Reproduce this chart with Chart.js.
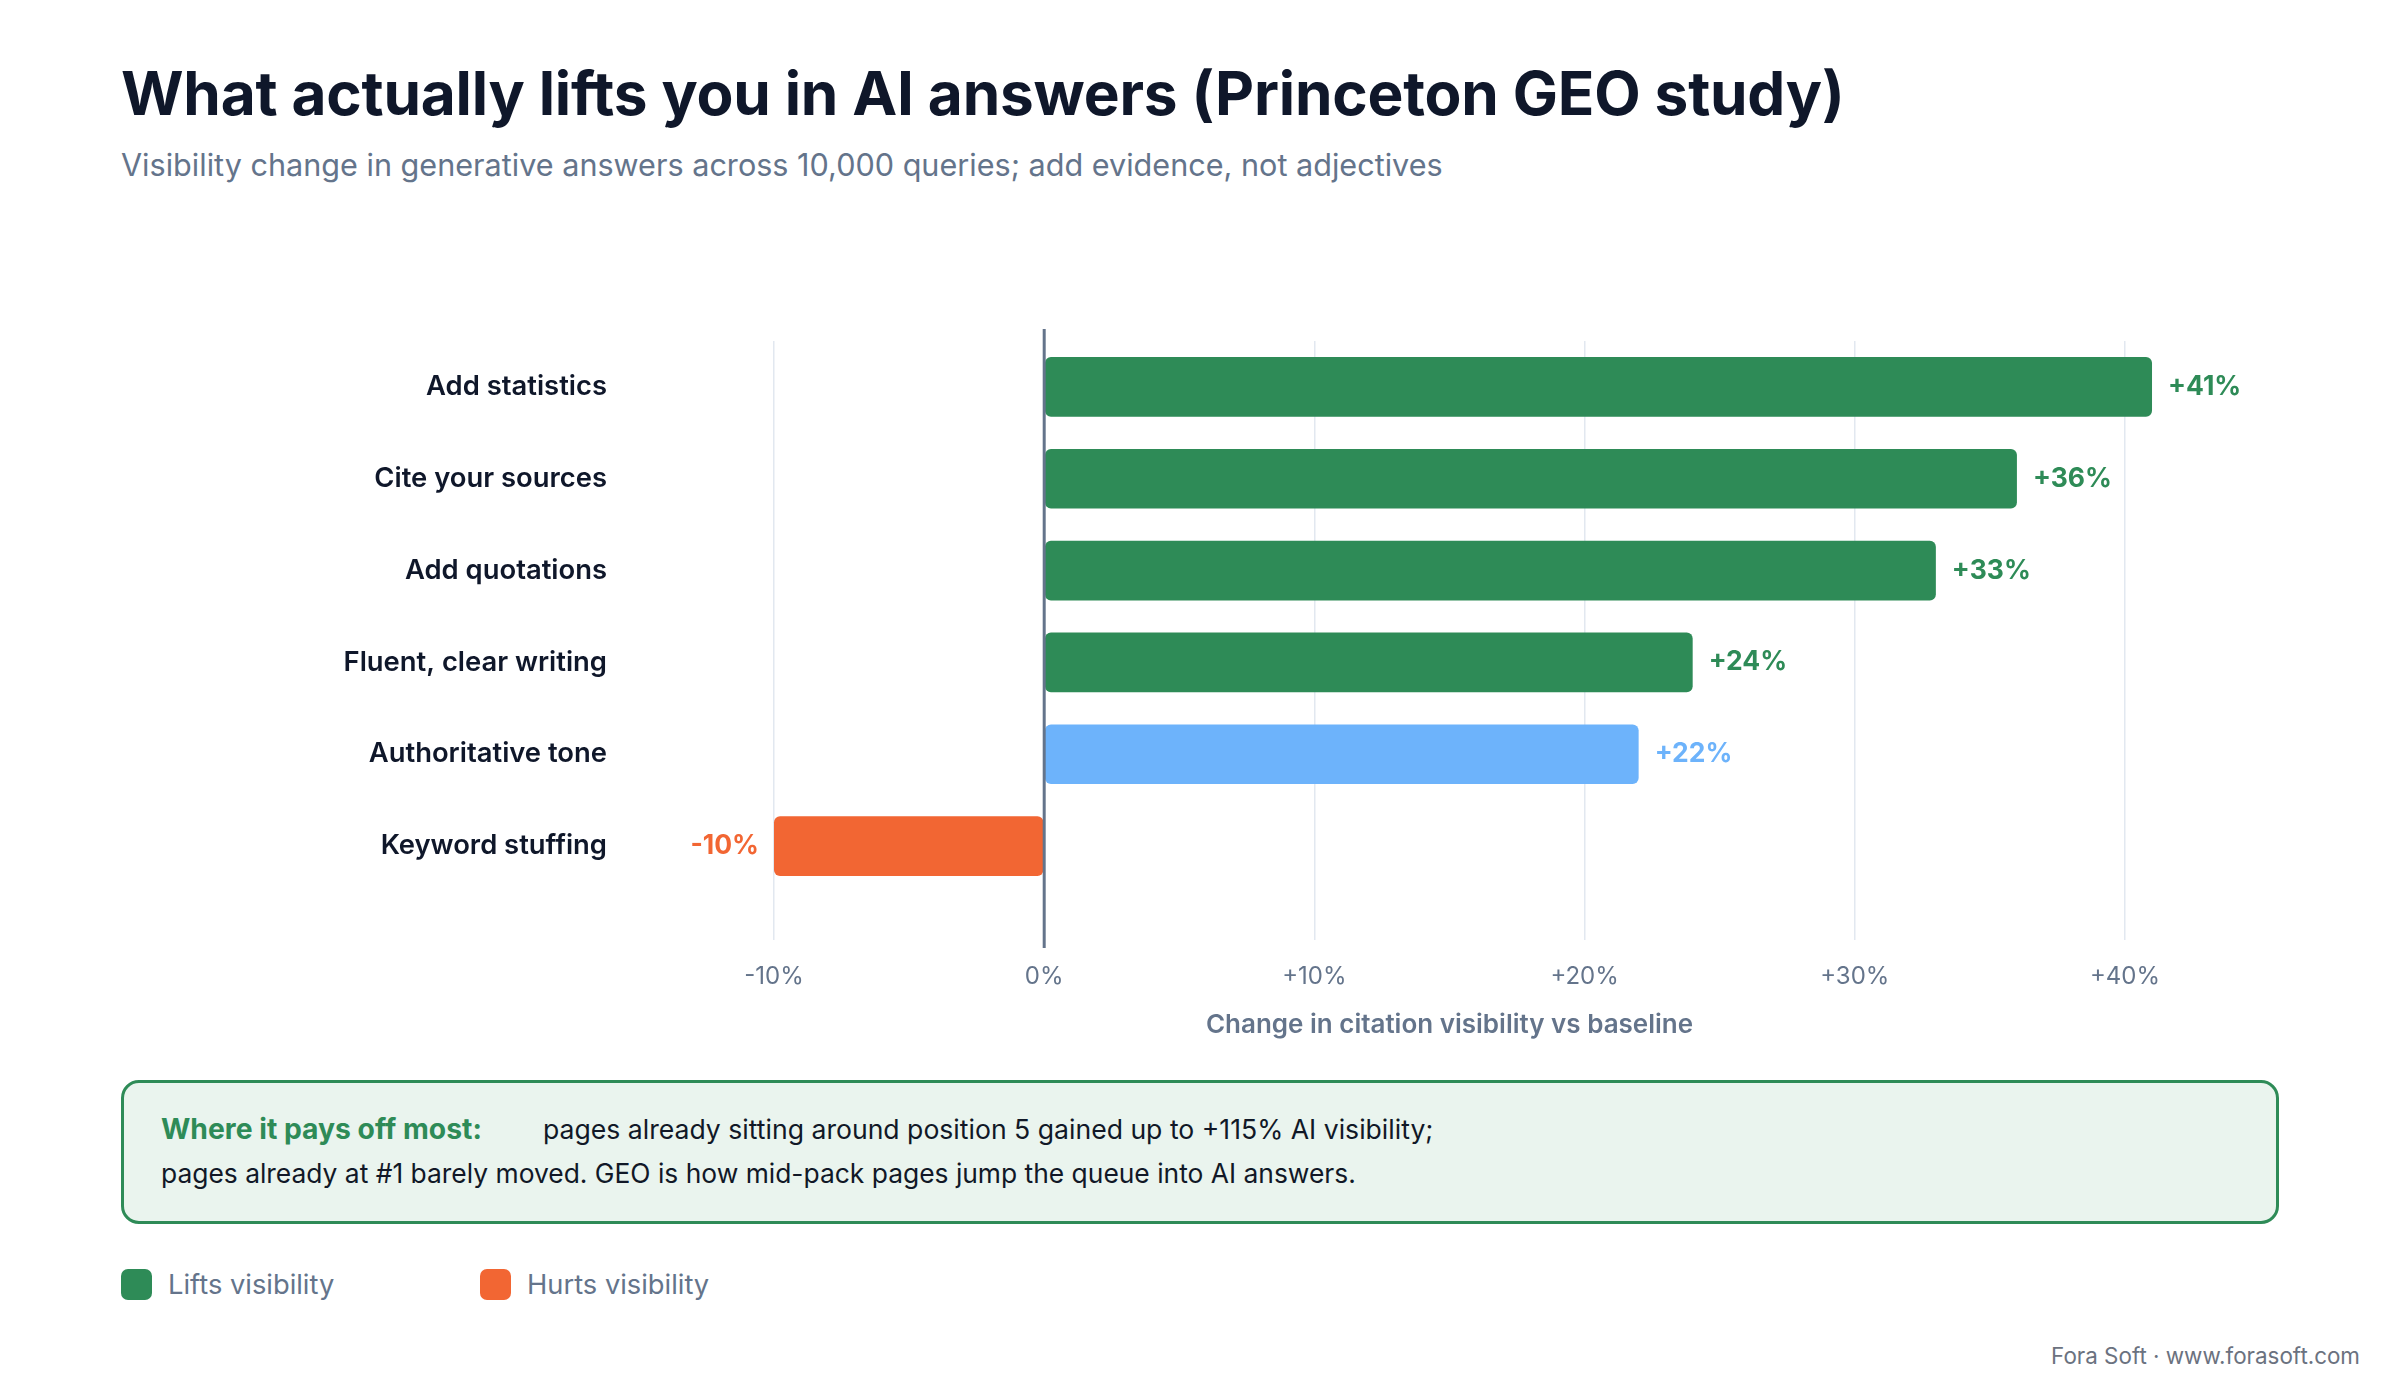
<!DOCTYPE html>
<html>
<head>
<meta charset="utf-8">
<script src="https://cdn.jsdelivr.net/npm/chart.js@4/dist/chart.umd.min.js"></script>
<style>
  html, body { margin: 0; padding: 0; background: #ffffff; }
  body { width: 2400px; height: 1400px; position: relative; overflow: hidden; font-family: 'Inter', 'Noto Sans', sans-serif; }
  .abs { position: absolute; white-space: nowrap; line-height: 1; }
  #title { left: 121px; top: 64px; font-size: 60.3px; font-weight: 700; color: #0f172a; letter-spacing: -0.2px; }
  #subtitle { left: 121px; top: 150px; font-size: 30.6px; font-weight: 400; color: #64748b; }
  #chartWrap { position: absolute; left: 0; top: 301px; width: 2400px; height: 744px; }
  #callout { position: absolute; left: 121px; top: 1080px; width: 2158px; height: 144px; box-sizing: border-box; border: 3px solid #2e8b57; border-radius: 18px; background: #eaf4ee; }
  #legend .sw { position: absolute; width: 31px; height: 31px; border-radius: 7px; }
  #legend .lt { font-size: 27.3px; color: #64748b; }
  #footer { right: 40px; top: 1345px; font-size: 22.4px; color: #6b7280; }
</style>
</head>
<body>
<div id="title" class="abs"></div>
<div id="subtitle" class="abs"></div>
<div id="chartWrap"><canvas id="c" width="2400" height="744"></canvas></div>
<div id="callout"></div>
<div id="calloutText"></div>
<div id="legend"></div>
<div id="footer" class="abs"></div>
<script>
// ---- data ----
const titleText = 'What actually lifts you in AI answers (Princeton GEO study)';
const subtitleText = 'Visibility change in generative answers across 10,000 queries; add evidence, not adjectives';
const categories = ['Add statistics', 'Cite your sources', 'Add quotations', 'Fluent, clear writing', 'Authoritative tone', 'Keyword stuffing'];
const values = [41, 36, 33, 24, 22, -10];
const barColors = ['#2e8b57', '#2e8b57', '#2e8b57', '#2e8b57', '#6db3fb', '#f26633'];
const tickValues = [-10, 0, 10, 20, 30, 40];
const axisTitle = 'Change in citation visibility vs baseline';
const calloutLead = 'Where it pays off most:';
const calloutLine1 = 'pages already sitting around position 5 gained up to +115% AI visibility;';
const calloutLine2 = 'pages already at #1 barely moved. GEO is how mid-pack pages jump the queue into AI answers.';
const legendLabels = ['Lifts visibility', 'Hurts visibility'];
const legendColors = ['#2e8b57', '#f26633'];
const footerText = 'Fora Soft · www.forasoft.com';

const fmt = v => (v > 0 ? '+' : '') + v + '%';

// ---- static text ----
document.getElementById('title').textContent = titleText;
document.getElementById('subtitle').textContent = subtitleText;
document.getElementById('footer').textContent = footerText;

const ct = document.getElementById('calloutText');
function addText(txt, left, top, style) {
  const d = document.createElement('div');
  d.className = 'abs';
  d.textContent = txt;
  d.style.left = left + 'px';
  d.style.top = top + 'px';
  Object.assign(d.style, style || {});
  ct.appendChild(d);
}
addText(calloutLead, 161, 1115, { fontWeight: '700', color: '#2e8b57', fontSize: '28.3px' });
addText(calloutLine1, 543, 1116, { color: '#111827', fontSize: '26.6px' });
addText(calloutLine2, 161, 1160, { color: '#111827', fontSize: '26.4px' });

const lg = document.getElementById('legend');
const legendX = [121, 480];
legendLabels.forEach((lab, i) => {
  const sw = document.createElement('div');
  sw.className = 'sw';
  sw.style.left = legendX[i] + 'px';
  sw.style.top = '1269px';
  sw.style.background = legendColors[i];
  lg.appendChild(sw);
  const t = document.createElement('div');
  t.className = 'abs lt';
  t.textContent = lab;
  t.style.left = (legendX[i] + 47) + 'px';
  t.style.top = '1271px';
  lg.appendChild(t);
});

// ---- chart ----
Chart.defaults.font.family = "'Inter', 'Noto Sans', sans-serif";

const zeroLine = {
  id: 'zeroLine',
  afterDatasetsDraw(chart) {
    const { ctx, chartArea, scales } = chart;
    const x = scales.x.getPixelForValue(0);
    ctx.save();
    ctx.strokeStyle = '#64748b';
    ctx.lineWidth = 3;
    ctx.beginPath();
    ctx.moveTo(x, chartArea.top - 12);
    ctx.lineTo(x, chartArea.bottom + 56);
    ctx.stroke();
    ctx.restore();
  }
};

const valueLabels = {
  id: 'valueLabels',
  afterDatasetsDraw(chart) {
    const { ctx } = chart;
    const meta = chart.getDatasetMeta(0);
    ctx.save();
    ctx.font = "700 26.5px 'Inter', 'Noto Sans', sans-serif";
    ctx.textBaseline = 'middle';
    meta.data.forEach((bar, i) => {
      const v = values[i];
      ctx.fillStyle = barColors[i];
      if (v >= 0) {
        ctx.textAlign = 'left';
        ctx.fillText(fmt(v), bar.x + 16, bar.y);
      } else {
        ctx.textAlign = 'right';
        ctx.fillText(fmt(v), bar.x - 15, bar.y);
      }
    });
    ctx.restore();
  }
};

new Chart(document.getElementById('c'), {
  type: 'bar',
  data: {
    labels: categories,
    datasets: [{
      data: values,
      backgroundColor: barColors,
      borderRadius: 6,
      borderSkipped: false,
      barPercentage: 0.65,
      categoryPercentage: 1.0,
      clip: false
    }]
  },
  options: {
    indexAxis: 'y',
    responsive: false,
    animation: false,
    layout: { padding: { top: 40, right: 275, bottom: 0, left: 0 } },
    plugins: { legend: { display: false }, tooltip: { enabled: false } },
    scales: {
      x: {
        min: -10,
        max: 40,
        afterBuildTicks: s => { s.ticks = tickValues.map(v => ({ value: v })); },
        ticks: {
          callback: v => fmt(v),
          font: { size: 24 },
          color: '#64748b',
          padding: 22
        },
        grid: { color: '#e2e8f0', lineWidth: 1.5, tickLength: 48, drawTicks: true, tickColor: '#e2e8f0' },
        border: { display: false },
        title: { display: true, text: axisTitle, font: { size: 26, weight: '600' }, color: '#64748b', padding: { top: -3, bottom: 4 } }
      },
      y: {
        grid: { display: false, drawTicks: false, tickLength: 0 },
        border: { display: false },
        ticks: { font: { size: 27.4, weight: '600' }, color: '#0f172a', padding: 167 },
        afterFit: s => { s.width = 774; s.paddingTop = 0; s.paddingBottom = 0; }
      }
    }
  },
  plugins: [zeroLine, valueLabels]
});
</script>
</body>
</html>
